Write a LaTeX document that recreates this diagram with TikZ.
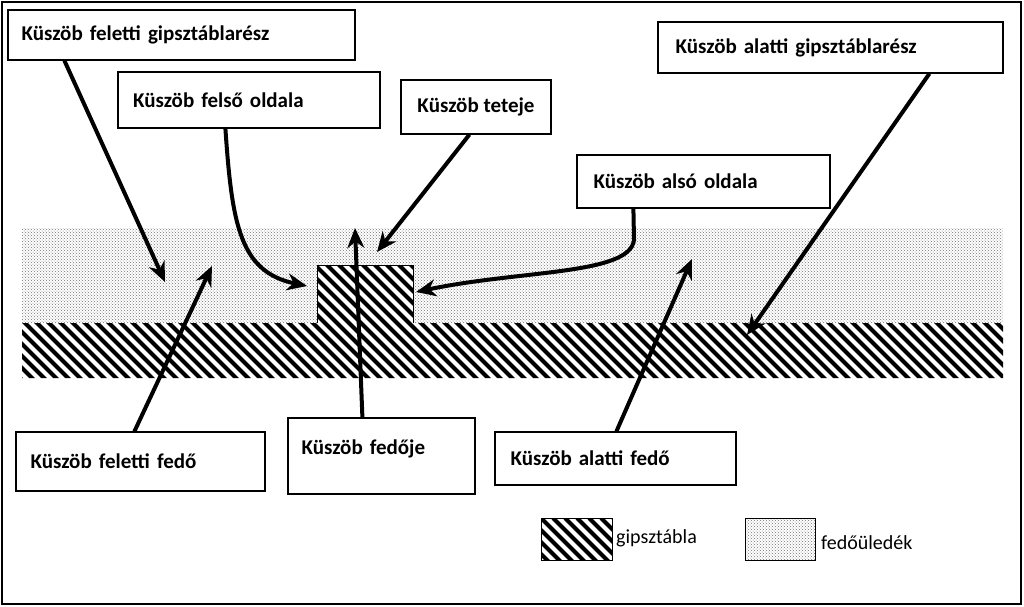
\documentclass[tikz,border=0pt]{standalone}
\usepackage{fontspec}
\setmainfont{Carlito}
\usetikzlibrary{patterns,arrows.meta}
\begin{document}
\begin{tikzpicture}[x=1pt,y=-1pt,
  lbl/.style={draw,line width=1.2pt,fill=white,inner sep=0pt,font=\fontsize{21}{24}\selectfont\bfseries},
  arr/.style={line width=4pt,-{Stealth[length=20pt,width=17pt]}},
  dotfill/.style={pattern=crosshatch dots,pattern color=black!55}]
\useasboundingbox (0,0) rectangle (1024,606);
\draw[line width=1.5pt] (2,2) rectangle (1021,604);
% coating
\fill[white] (22,228) rectangle (1003,323);
\fill[dotfill] (22,228) -- (1003,228) -- (1003,323) -- (413,323) -- (413,265) -- (317,265) -- (317,323) -- (22,323) -- cycle;
% gypsum hatch
\begin{scope}
\clip (22,378) -- (22,323) -- (317,323) -- (317,265) -- (413,265) -- (413,323) -- (1003,323) -- (1003,378) -- cycle;
\foreach \x in {-120,-108,...,1010}{\draw[line width=4pt] (\x,250) -- (\x+135,385);}
\end{scope}
\draw[line width=1pt] (317,323) -- (317,265) -- (413,265) -- (413,323);
% boxes
\node[lbl,minimum width=347pt,minimum height=50pt,text width=320pt,align=left] (a) at (181.5,35) {Küszöb feletti gipsztáblarész};
\node[lbl,minimum width=262pt,minimum height=56pt,text width=232pt,align=left] (b) at (249,100) {Küszöb felső oldala};
\node[lbl,minimum width=150pt,minimum height=54pt] (c) at (476,107) {Küszöb teteje};
\node[lbl,minimum width=345pt,minimum height=51pt,text width=310pt,align=left] (d) at (830.5,47.5) {Küszöb alatti gipsztáblarész};
\node[lbl,minimum width=253pt,minimum height=53pt,text width=220pt,align=left] (e) at (703.5,181.5) {Küszöb alsó oldala};
\node[lbl,minimum width=249pt,minimum height=59pt,text width=220pt,align=left] (f) at (140.5,461.5) {Küszöb feletti fedő};
\node[lbl,minimum width=187pt,minimum height=76pt,text width=160pt,align=left] (g) at (381.5,456) {\raisebox{18pt}{Küszöb fedője}};
\node[lbl,minimum width=241pt,minimum height=53pt,text width=210pt,align=left] (h) at (615.5,458.5) {Küszöb alatti fedő};
% legend
\node[draw,line width=1pt,minimum width=71pt,minimum height=42pt,inner sep=0pt,path picture={\foreach \x in {-60,-48,...,80}{\draw[line width=4pt] ([xshift=\x pt]path picture bounding box.north west) -- ++(60,60);}}] (lg) at (576.5,539) {};
\node[anchor=west,font=\fontsize{20}{22}\selectfont,inner sep=0pt] (lgt) at (616,538) {gipsztábla};
\node[draw,line width=1pt,dotfill,minimum width=70pt,minimum height=42pt,inner sep=0pt] (ld) at (780,539) {};
\node[anchor=west,font=\fontsize{20}{22}\selectfont,inner sep=0pt] (ldt) at (821,543) {fedőüledék};
% arrows
\coordinate (t1) at (165,282);
\coordinate (t2) at (212,266);
\coordinate (t3) at (307,286);
\coordinate (t4) at (377,252);
\coordinate (t5) at (355,228);
\coordinate (t6) at (416,292);
\coordinate (t7) at (692,259);
\coordinate (t8) at (747,335);
\draw[arr] (a.south west) ++(57,0) -- (t1);
\draw[arr] (f.north west) ++(119,0) -- (t2);
\draw[arr] (b.south west) ++(108,0) .. controls (232,225) and (240,272) .. (t3);
\draw[arr] (c.south west) ++(69,0) -- (t4);
\draw[arr] (g.north west) ++(75,0) -- (t5);
\draw[arr] (e.south west) ++(57,0) -- (634,240) .. controls (630,275) and (520,270) .. (t6);
\draw[arr] (h.north west) ++(122,0) -- (t7);
\draw[arr] (d.south west) ++(272,0) -- (t8);
\end{tikzpicture}
\end{document}
